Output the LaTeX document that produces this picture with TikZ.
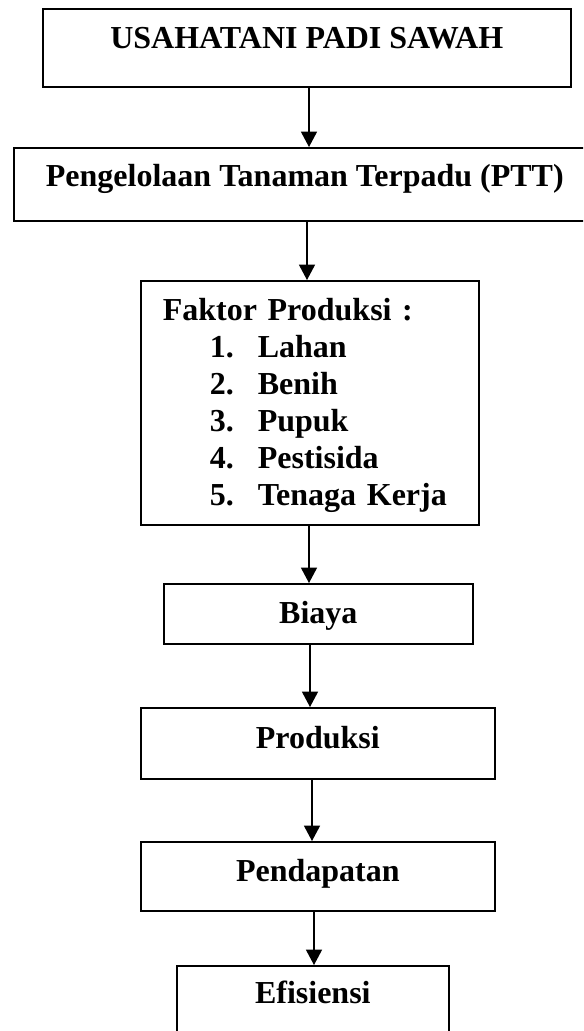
\documentclass[tikz,border=0pt]{standalone}
\usepackage{fontspec}
\setmainfont{Liberation Serif}
\usepackage{tikz}
\usetikzlibrary{arrows.meta}

\newcommand{\itemfaktor}[2]{\hspace*{35.25pt}\makebox[36pt][l]{#1}#2}

\tikzset{
  stage/.style={draw=black,line width=1.2pt,inner sep=0pt,anchor=north west,
    font=\bfseries\fontsize{24pt}{27.75pt}\selectfont},
  flow/.style={draw=black,line width=1pt,-{Triangle[length=11.5pt,width=12pt]}}
}

\begin{document}
\begin{tikzpicture}[x=0.75pt,y=-0.75pt]
\useasboundingbox (0,0) rectangle (583,1031);
\clip (0,0) rectangle (583,1031);
% boxes, top to bottom:
\node[stage,minimum width=396pt,text height=30pt,text depth=28.5pt] (usahatani) at (42,8) {USAHATANI PADI SAWAH};
\node[stage,minimum width=436.5pt,text height=29.25pt,text depth=25.5pt] (ptt) at (13,147) {Pengelolaan Tanaman Terpadu (PTT)};
\node[stage,text width=220.5pt,inner xsep=16.5pt,align=left,text height=30pt,text depth=153pt] (faktor) at (140,280)
  {Faktor Produksi :\\
   \itemfaktor{1.}{Lahan}\\
   \itemfaktor{2.}{Benih}\\
   \itemfaktor{3.}{Pupuk}\\
   \itemfaktor{4.}{Pestisida}\\
   \itemfaktor{5.}{Tenaga Kerja}};
\node[stage,minimum width=231.75pt,text height=30pt,text depth=15pt] (biaya) at (163,583) {Biaya};
\node[stage,minimum width=265.5pt,text height=30.75pt,text depth=22.5pt] (produksi) at (140,707) {Produksi};
\node[stage,minimum width=265.5pt,text height=30pt,text depth=21.75pt] (pendapatan) at (140,841) {Pendapatan};
\node[stage,minimum width=204pt,text height=28.5pt,text depth=31.5pt] (efisiensi) at (176,965) {Efisiensi};
% arrows:
\draw[flow] (usahatani.south -| 309,0) -- (ptt.north -| 309,0);
\draw[flow] (ptt.south -| 307,0) -- (faktor.north -| 307,0);
\draw[flow] (faktor.south -| 309,0) -- (biaya.north -| 309,0);
\draw[flow] (biaya.south -| 310,0) -- (produksi.north -| 310,0);
\draw[flow] (produksi.south -| 312,0) -- (pendapatan.north -| 312,0);
\draw[flow] (pendapatan.south -| 314,-6) -- (efisiensi.north -| 314,0);
\end{tikzpicture}
\end{document}
